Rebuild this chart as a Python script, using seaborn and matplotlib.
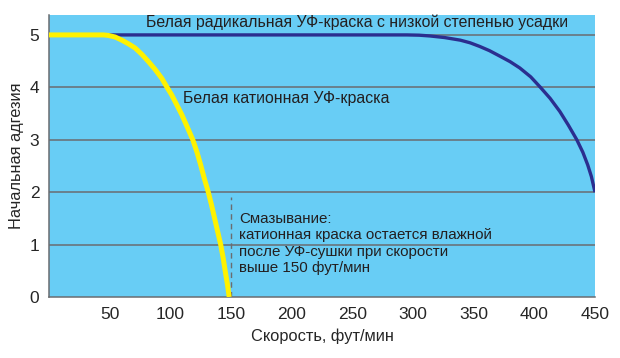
import matplotlib
matplotlib.use('Agg')
import matplotlib.pyplot as plt
import seaborn as sns

# Yellow curve: white cationic UV ink
cat_speed = [0, 45, 49, 54.5, 60, 65.5, 71, 76.5, 82, 87.5, 93, 97.3, 101, 105,
             109.4, 114, 118.5, 122, 125, 128, 131.3, 134, 136.5, 139, 141.5,
             143.5, 145.2, 147, 148.5]
cat_adh = [5, 5, 4.99, 4.96, 4.90, 4.83, 4.75, 4.63, 4.49, 4.34, 4.17, 4.0, 3.86, 3.68,
           3.48, 3.24, 3.0, 2.76, 2.52, 2.26, 2.0, 1.75, 1.5, 1.25, 1.0,
           0.75, 0.5, 0.25, 0]

# Dark blue curve: white radical UV ink, low shrinkage
rad_speed = [0, 295, 305, 314, 326, 339, 347, 355, 363, 372, 380, 388, 397, 405,
             413, 421, 428, 435, 440, 444, 447, 450]
rad_adh = [5, 5, 4.995, 4.98, 4.95, 4.9, 4.85, 4.78, 4.7, 4.59, 4.49, 4.37, 4.2, 4.0,
           3.79, 3.54, 3.28, 3.0, 2.76, 2.52, 2.3, 2.0]

x_ticks = [50, 100, 150, 200, 250, 300, 350, 400, 450]
y_ticks = [0, 1, 2, 3, 4, 5]

sns.set_style('white')
plt.rcParams['font.family'] = ['Liberation Sans', 'DejaVu Sans']

bg = '#68cdf5'
grey = '#6a6c70'
ink = '#231f20'

fig = plt.figure(figsize=(6.2, 3.58), dpi=100)
ax = fig.add_axes([49 / 620, 1 - 297 / 358, 546 / 620, 282 / 358])
ax.set_facecolor(bg)

for y in y_ticks[1:]:
    ax.axhline(y, color=grey, lw=1.1, zorder=1)

# wet-ink limit marker
ax.plot([150, 150], [0, 1.9], color=grey, lw=1, ls=(0, (4, 3)), zorder=2)

sns.lineplot(x=rad_speed, y=rad_adh, ax=ax, color='#2b2e8f', lw=2.4,
             solid_joinstyle='round', solid_capstyle='butt', zorder=3)
sns.lineplot(x=cat_speed, y=cat_adh, ax=ax, color='#fff200', lw=3.6,
             solid_joinstyle='round', solid_capstyle='butt', zorder=4)

ax.text(80, 5.25, 'Белая радикальная УФ-краска с низкой степенью усадки',
        fontsize=11.4, va='center', ha='left', color=ink)
ax.text(110.5, 3.78, 'Белая катионная УФ-краска',
        fontsize=11.4, va='center', ha='left', color=ink)
ax.text(157, 1.02, 'Смазывание:\nкатионная краска остается влажной\n'
        'после УФ-сушки при скорости\nвыше 150 фут/мин',
        fontsize=10.9, va='center', ha='left', linespacing=1.2, color=ink)

ax.set_xlim(0, 450)
ax.set_ylim(0, 5.38)
ax.set_xticks(x_ticks)
ax.set_yticks(y_ticks)
ax.tick_params(axis='x', direction='in', length=5, color=grey, labelsize=12.5, pad=7)
ax.tick_params(axis='y', length=0, labelsize=12.5, pad=7)

for s in ['top', 'right']:
    ax.spines[s].set_visible(False)
for s in ['left', 'bottom']:
    ax.spines[s].set_color(grey)
    ax.spines[s].set_linewidth(1.1)

ax.set_xlabel('Скорость, фут/мин', fontsize=11.8, labelpad=5)
ax.set_ylabel('Начальная адгезия', fontsize=11.8, labelpad=4)

fig.savefig('out.png', dpi=100, facecolor='white')
